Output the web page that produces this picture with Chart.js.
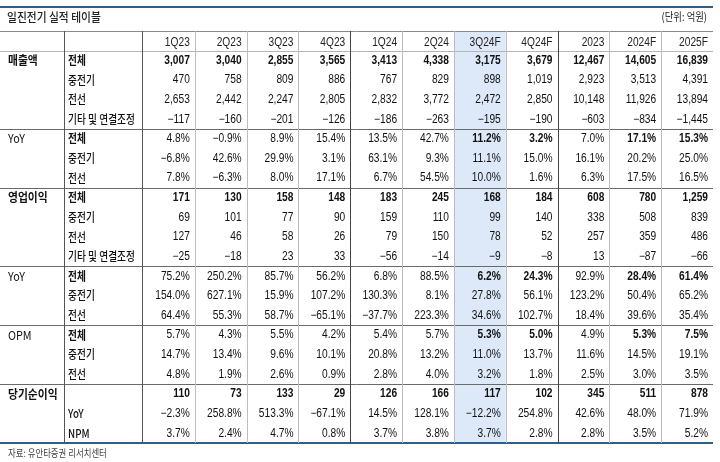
<!DOCTYPE html>
<html>
<head>
<meta charset="utf-8">
<script src="https://cdn.jsdelivr.net/npm/chart.js@4.4.1/dist/chart.umd.min.js"></script>
<style>
  html, body { margin: 0; padding: 0; background: #fff; }
  #wrap { width: 720px; height: 462px; }
</style>
</head>
<body>
<div id="wrap"><canvas id="tbl" width="720" height="462"></canvas></div>
<script>
// columns (quarters + years), 3Q24F is highlighted
const columns = ['1Q23','2Q23','3Q23','4Q23','1Q24','2Q24','3Q24F','4Q24F','2023','2024F','2025F'];

// 매출액
const salesTotal = [3007, 3040, 2855, 3565, 3413, 4338, 3175, 3679, 12467, 14605, 16839];
const salesHeavy = [470, 758, 809, 886, 767, 829, 898, 1019, 2923, 3513, 4391];
const salesCable = [2653, 2442, 2247, 2805, 2832, 3772, 2472, 2850, 10148, 11926, 13894];
const salesOther = [-117, -160, -201, -126, -186, -263, -195, -190, -603, -834, -1445];
// 매출액 YoY (%)
const salesYoYTotal = [4.8, -0.9, 8.9, 15.4, 13.5, 42.7, 11.2, 3.2, 7.0, 17.1, 15.3];
const salesYoYHeavy = [-6.8, 42.6, 29.9, 3.1, 63.1, 9.3, 11.1, 15.0, 16.1, 20.2, 25.0];
const salesYoYCable = [7.8, -6.3, 8.0, 17.1, 6.7, 54.5, 10.0, 1.6, 6.3, 17.5, 16.5];
// 영업이익
const opTotal = [171, 130, 158, 148, 183, 245, 168, 184, 608, 780, 1259];
const opHeavy = [69, 101, 77, 90, 159, 110, 99, 140, 338, 508, 839];
const opCable = [127, 46, 58, 26, 79, 150, 78, 52, 257, 359, 486];
const opOther = [-25, -18, 23, 33, -56, -14, -9, -8, 13, -87, -66];
// 영업이익 YoY (%)
const opYoYTotal = [75.2, 250.2, 85.7, 56.2, 6.8, 88.5, 6.2, 24.3, 92.9, 28.4, 61.4];
const opYoYHeavy = [154.0, 627.1, 15.9, 107.2, 130.3, 8.1, 27.8, 56.1, 123.2, 50.4, 65.2];
const opYoYCable = [64.4, 55.3, 58.7, -65.1, -37.7, 223.3, 34.6, 102.7, 18.4, 39.6, 35.4];
// OPM (%)
const opmTotal = [5.7, 4.3, 5.5, 4.2, 5.4, 5.7, 5.3, 5.0, 4.9, 5.3, 7.5];
const opmHeavy = [14.7, 13.4, 9.6, 10.1, 20.8, 13.2, 11.0, 13.7, 11.6, 14.5, 19.1];
const opmCable = [4.8, 1.9, 2.6, 0.9, 2.8, 4.0, 3.2, 1.8, 2.5, 3.0, 3.5];
// 당기순이익
const netIncome = [110, 73, 133, 29, 126, 166, 117, 102, 345, 511, 878];
const netYoY = [-2.3, 258.8, 513.3, -67.1, 14.5, 128.1, -12.2, 254.8, 42.6, 48.0, 71.9];
const npm = [3.7, 2.4, 4.7, 0.8, 3.7, 3.8, 3.7, 2.8, 2.8, 3.5, 5.2];

// row layout: group label, row label, values, format, which cells are bold
const rows = [
  { group: '매출액', gb: true, label: '전체', lb: true, v: salesTotal, f: 'n', b: 'all' },
  { label: '중전기', v: salesHeavy, f: 'n' },
  { label: '전선', v: salesCable, f: 'n' },
  { label: '기타 및 연결조정', v: salesOther, f: 'n' },
  { group: 'YoY', label: '전체', lb: true, v: salesYoYTotal, f: 'p', b: 'fc' },
  { label: '중전기', v: salesYoYHeavy, f: 'p' },
  { label: '전선', v: salesYoYCable, f: 'p' },
  { group: '영업이익', gb: true, label: '전체', lb: true, v: opTotal, f: 'n', b: 'all' },
  { label: '중전기', v: opHeavy, f: 'n' },
  { label: '전선', v: opCable, f: 'n' },
  { label: '기타 및 연결조정', v: opOther, f: 'n' },
  { group: 'YoY', label: '전체', lb: true, v: opYoYTotal, f: 'p', b: 'fc' },
  { label: '중전기', v: opYoYHeavy, f: 'p' },
  { label: '전선', v: opYoYCable, f: 'p' },
  { group: 'OPM', label: '전체', lb: true, v: opmTotal, f: 'p', b: 'fc' },
  { label: '중전기', v: opmHeavy, f: 'p' },
  { label: '전선', v: opmCable, f: 'p' },
  { group: '당기순이익', gb: true, label: '', v: netIncome, f: 'n', b: 'all' },
  { label: 'YoY', v: netYoY, f: 'p' },
  { label: 'NPM', v: npm, f: 'p' },
];
const sectionEnds = [4, 7, 11, 14, 17]; // separator lines before these data rows
const fcCols = [6, 7, 9, 10];
const highlightCol = 6;

const rowKeys = ['hdr'].concat(rows.map((_, i) => 'r' + i));

function fmt(v, f) {
  const neg = v < 0;
  let s = f === 'p' ? Math.abs(v).toFixed(1) + '%' : Math.abs(v).toLocaleString('en-US');
  return (neg ? '\u2212' : '') + s;
}

const cells = [];
rows.forEach((r, ri) => {
  r.v.forEach((val, ci) => {
    const bold = r.b === 'all' || (r.b === 'fc' && fcCols.includes(ci));
    cells.push({ x: columns[ci], y: rowKeys[ri + 1], t: fmt(val, r.f), bold });
  });
});

const NUM_FONT = '"Liberation Sans", "Noto Sans CJK KR", sans-serif';
const KR_FONT = '"Noto Sans CJK KR", "Liberation Sans", sans-serif';

function txt(ctx, s, x, y, align, font, sx, color) {
  ctx.save();
  ctx.translate(x, y);
  ctx.scale(sx, 1);
  ctx.font = font;
  ctx.textAlign = align;
  ctx.textBaseline = 'middle';
  ctx.fillStyle = color || '#111';
  ctx.fillText(s, 0, 0);
  ctx.restore();
}

function hline(ctx, x1, x2, y, color, w) {
  ctx.beginPath();
  ctx.strokeStyle = color;
  ctx.lineWidth = w;
  const yy = w % 2 ? Math.round(y) + 0.5 : Math.round(y);
  ctx.moveTo(x1, yy); ctx.lineTo(x2, yy); ctx.stroke();
}
function vline(ctx, x, y1, y2, color, w) {
  ctx.beginPath();
  ctx.strokeStyle = color;
  ctx.lineWidth = w;
  const xx = Math.round(x) + 0.5;
  ctx.moveTo(xx, y1); ctx.lineTo(xx, y2); ctx.stroke();
}

const tablePlugin = {
  id: 'tablePlugin',
  beforeDatasetsDraw(chart) {
    const { ctx, chartArea, scales } = chart;
    const xs = scales.x;
    const bw = xs.getPixelForValue(1) - xs.getPixelForValue(0);
    const cx = xs.getPixelForValue(highlightCol);
    ctx.save();
    ctx.fillStyle = '#dde9f8';
    ctx.fillRect(cx - bw / 2, chartArea.top, bw, chartArea.bottom - chartArea.top);
    ctx.restore();
  },
  afterDatasetsDraw(chart) {
    const { ctx, chartArea, scales } = chart;
    const xs = scales.x, ys = scales.y;
    const bw = xs.getPixelForValue(1) - xs.getPixelForValue(0);
    const rh = ys.getPixelForValue(1) - ys.getPixelForValue(0);
    const top = chartArea.top, bottom = chartArea.bottom;
    const rowTop = i => ys.getPixelForValue(i) - rh / 2;

    // title + unit
    txt(ctx, '일진전기 실적 테이블', 7, 17, 'left', '500 12.5px ' + KR_FONT, 0.86, '#222');
    txt(ctx, '(단위: 억원)', 707, 17, 'right', '11px ' + KR_FONT, 0.85, '#222');

    // horizontal rules
    hline(ctx, 0, 713, 7, '#2f5d8c', 2);
    hline(ctx, 0, 713, top, '#8a8a8a', 1);
    hline(ctx, 0, 713, rowTop(1), '#b5b5b5', 1);
    sectionEnds.forEach(e => hline(ctx, 0, 713, rowTop(e + 1), '#6a6a6a', 1));
    hline(ctx, 0, 713, bottom, '#2f5d8c', 2);

    // vertical rules
    vline(ctx, 64, top, bottom, '#555', 1);
    vline(ctx, chartArea.left - 1, top, bottom, '#555', 1);
    for (let c = 0; c < columns.length - 1; c++) {
      const x = xs.getPixelForValue(c) + bw / 2;
      const dark = c === 3 || c === 7;
      vline(ctx, x, top, bottom, dark ? '#444' : '#bdbdbd', 1);
    }

    // header
    const hy = ys.getPixelForValue(0) + 2;
    columns.forEach((c, i) => {
      txt(ctx, c, xs.getPixelForValue(i) + bw / 2 - 5, hy, 'right', '12px ' + NUM_FONT, 0.85, '#222');
    });

    // row labels
    rows.forEach((r, i) => {
      const y = ys.getPixelForValue(i + 1);
      if (r.group) txt(ctx, r.group, 8, y, 'left', (r.gb ? 'bold ' : '') + '12px ' + KR_FONT, 0.9, '#111');
      if (r.label) txt(ctx, r.label, 68, y, 'left', (r.lb ? 'bold ' : '500 ') + '12px ' + KR_FONT, 0.81, '#111');
    });

    // cells, placed at the dataset's own points
    const meta = chart.getDatasetMeta(0);
    meta.data.forEach((el, i) => {
      const d = cells[i];
      txt(ctx, d.t, el.x + bw / 2 - 5, el.y, 'right', (d.bold ? 'bold ' : '') + '12px ' + NUM_FONT, 0.85, '#111');
    });

    // source
    txt(ctx, '자료: 유안타증권 리서치센터', 8, 453, 'left', '10px ' + KR_FONT, 0.84, '#444');
  }
};

new Chart(document.getElementById('tbl'), {
  type: 'scatter',
  data: {
    datasets: [{
      data: cells,
      pointRadius: 0,
      pointHoverRadius: 0,
    }]
  },
  options: {
    responsive: false,
    animation: false,
    events: [],
    layout: { padding: { left: 143, right: 7, top: 31, bottom: 19 } },
    plugins: { legend: { display: false }, tooltip: { enabled: false } },
    scales: {
      x: { type: 'category', labels: columns, offset: true, display: false },
      y: { type: 'category', labels: rowKeys, offset: true, display: false },
    }
  },
  plugins: [tablePlugin]
});
</script>
</body>
</html>
